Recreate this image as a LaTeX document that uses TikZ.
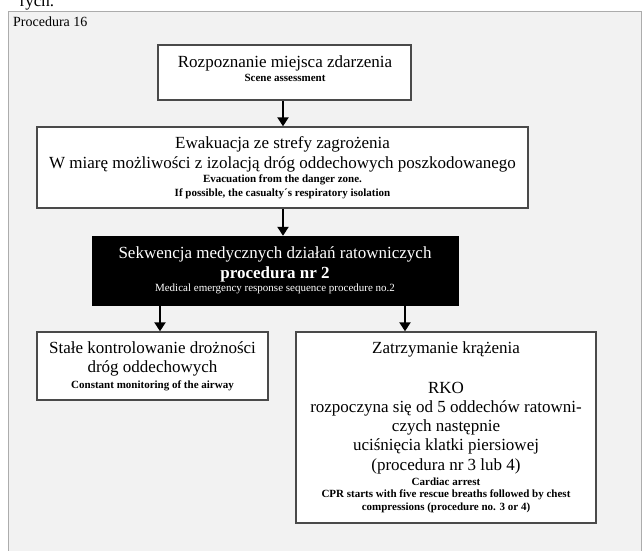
\documentclass[tikz,border=0pt]{standalone}
\usepackage{fontspec}
\setmainfont{Liberation Serif}
\usetikzlibrary{arrows.meta}
\definecolor{framebg}{HTML}{F2F2F2}
\definecolor{edge}{HTML}{4A4A4A}
\tikzset{
  big/.style={anchor=base, inner sep=0pt, font=\fontsize{17}{20}\selectfont},
  bigb/.style={big, font=\fontsize{17}{20}\selectfont\bfseries},
  small/.style={anchor=base, inner sep=0pt, font=\fontsize{11}{13}\selectfont\bfseries},
  box/.style={draw=edge, line width=1.4pt, fill=white, inner sep=0pt, anchor=center},
  blackbox/.style={draw=black, fill=black, inner sep=0pt, anchor=center},
  flow/.style={line width=2.6pt, -{Triangle[width=11pt,length=9pt]}, shorten <=0.6pt}
}
\begin{document}
\begin{tikzpicture}[x=1pt,y=-1pt]
\useasboundingbox (0,0) rectangle (643,551);
\fill[white] (0,0) rectangle (643,551);
% cut-off text from previous page
\node[big] (prev) at (37,7) {rych.};
% frame
\node[draw=gray!65, line width=1.3pt, fill=framebg, minimum width=633pt, minimum height=560pt, inner sep=0pt, anchor=north west] (frame) at (8,11) {};
\node[anchor=base west, inner sep=0pt, font=\fontsize{14}{16}\selectfont] (title) at (13,27) {Procedura 16};
% boxes
\node[box, minimum width=253pt, minimum height=55pt] (b1) at (284.5,72.5) {};
\node[box, minimum width=491pt, minimum height=81pt] (b2) at (282.5,167.5) {};
\node[blackbox, minimum width=366pt, minimum height=69pt] (b3) at (275,270.5) {};
\node[box, minimum width=231pt, minimum height=68pt] (b4) at (152.5,366) {};
\node[box, minimum width=300pt, minimum height=191pt] (b5) at (446,427.5) {};
% texts box 1
\node[big] (t1a) at (285,67) {Rozpoznanie miejsca zdarzenia};
\node[small] (t1b) at (285,81.5) {Scene assessment};
% box 2
\node[big] (t2a) at (282.5,148) {Ewakuacja ze strefy zagrożenia};
\node[big] (t2b) at (282.5,168) {W miarę możliwości z izolacją dróg oddechowych poszkodowanego};
\node[small] (t2c) at (282.5,182.5) {Evacuation from the danger zone.};
\node[small] (t2d) at (282.5,196.5) {If possible, the casualty´s respiratory isolation};
% box 3
\node[big, text=white] (t3a) at (275,258) {Sekwencja medycznych działań ratowniczych};
\node[bigb, text=white] (t3b) at (275,278) {procedura nr 2};
\node[small, text=white, font=\fontsize{11}{13}\selectfont] (t3c) at (275,291.5) {Medical emergency response sequence procedure no.2};
% box 4
\node[big] (t4a) at (152.5,353) {Stałe kontrolowanie drożności};
\node[big] (t4b) at (152.5,372) {dróg oddechowych};
\node[small] (t4c) at (152.5,388.5) {Constant monitoring of the airway};
% box 5
\node[big] (t5a) at (446,353) {Zatrzymanie krążenia};
\node[big] (t5b) at (446,393) {RKO};
\node[big] (t5c) at (446,412) {rozpoczyna się od 5 oddechów ratowni-};
\node[big] (t5d) at (446,431) {czych następnie};
\node[big] (t5e) at (446,450) {uciśnięcia klatki piersiowej};
\node[big] (t5f) at (446,470) {(procedura nr 3 lub 4)};
\node[small] (t5g) at (446,485.5) {Cardiac arrest};
\node[small] (t5h) at (446,497.5) {CPR starts with five rescue breaths followed by chest};
\node[small] (t5i) at (446,510.5) {compressions (procedure no. 3 or 4)};
% connectors
\draw[flow] (b1.south -| 283,0) -- (b2.north -| 283,0);
\draw[flow] (b2.south -| 283,0) -- (b3.north -| 283,0);
\draw[flow] (b3.south -| 160,0) -- (b4.north -| 160,0);
\draw[flow] (b3.south -| 405,0) -- (b5.north -| 405,0);
\end{tikzpicture}
\end{document}
